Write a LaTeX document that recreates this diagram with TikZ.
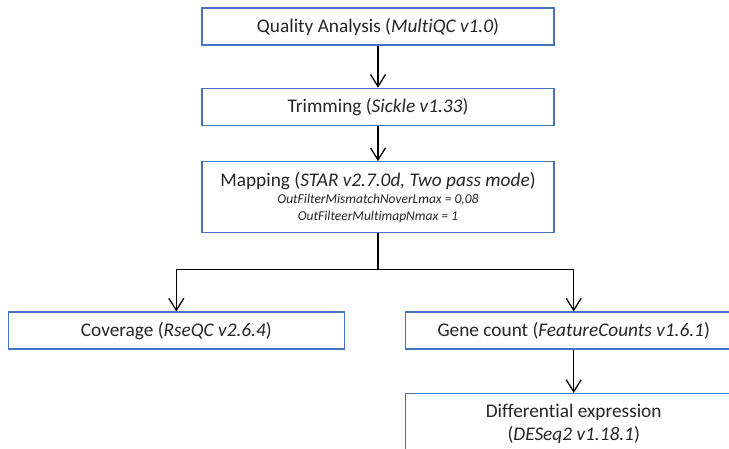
\documentclass[tikz,border=0pt]{standalone}
\usepackage{fontspec}
\setmainfont{Carlito}[Ligatures={NoCommon}]
\usetikzlibrary{arrows.meta, positioning}

\definecolor{boxblue}{HTML}{4472C4}
\definecolor{textgray}{HTML}{262626}

\begin{document}
\begin{tikzpicture}[
    % Define styles
    stage/.style={rectangle, draw=boxblue, line width=1.4pt, fill=white, text=textgray, minimum width=352pt, minimum height=37pt, inner sep=2pt, align=center, font=\fontsize{19.3}{23}\selectfont},
    branch/.style={stage, minimum width=336pt},
    arrow/.style={-{Straight Barb[length=12pt, width=15pt, line width=1.3pt]}, line width=1.5pt}
  ]

  \useasboundingbox (0,0) rectangle (729pt,-449pt);
  \clip (0,0) rectangle (729pt,-449pt);

  % Quality check
  \node[stage] (quality) at (378pt,-26.5pt) {Quality Analysis (\textit{MultiQC v1.0})};

  % Trimming
  \node[stage, below=42pt of quality] (trim) {Trimming (\textit{Sickle v1.33})};
  \draw[arrow] (quality) -- (trim);

  % Mapping
  \node[stage, below=35pt of trim, minimum height=71pt] (mapping) {Mapping (\textit{STAR v2.7.0d, Two pass mode})\\[-6pt]
    {\fontsize{13.5}{16}\selectfont\itshape OutFilterMismatchNoverLmax = 0,08}\\[-6pt]
    {\fontsize{13.5}{16}\selectfont\itshape OutFilteerMultimapNmax = 1}};
  \draw[arrow] (trim) -- (mapping);

  % Split
  \coordinate[below=36pt of mapping] (split);
  \draw[line width=1.5pt] (mapping) -- (split);

  % Coverage and counts
  \node[branch, below left=42pt and 33pt of split] (coverage) {Coverage (\textit{RseQC v2.6.4})};
  \node[branch, below right=42pt and 27pt of split] (genecount) {Gene count (\textit{FeatureCounts v1.6.1})};
  \draw[arrow] (split) -| (coverage);
  \draw[arrow] (split) -| (genecount);

  % Differential expression
  \node[branch, below=43pt of genecount, minimum height=60pt] (diffexp) {Differential expression\\(\textit{DESeq2 v1.18.1})};
  \draw[arrow] (genecount) -- (diffexp);

\end{tikzpicture}
\end{document}
